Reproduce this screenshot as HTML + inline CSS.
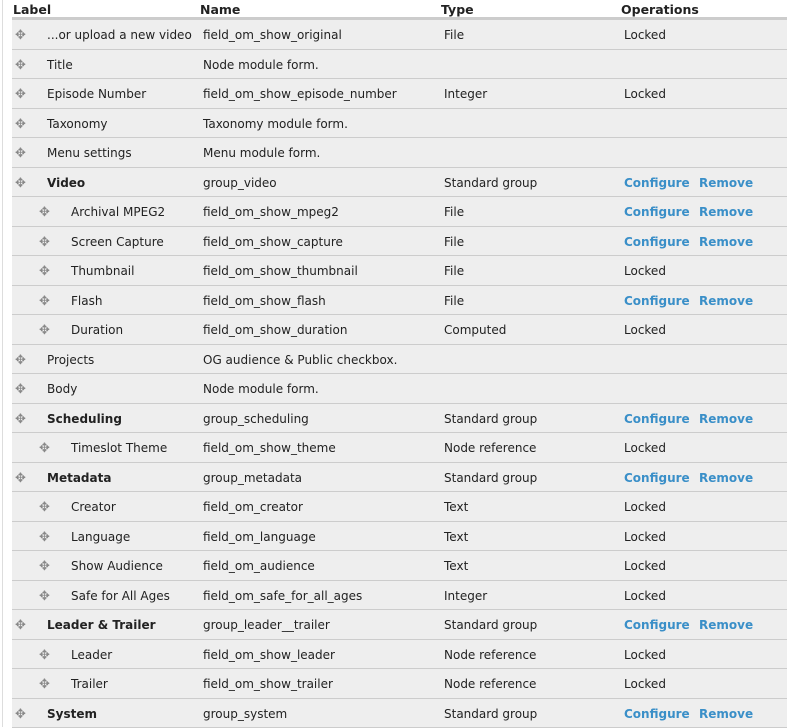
<!DOCTYPE html>
<html><head><style>
body{margin:0;width:805px;height:727px;background:#fff;font-family:"DejaVu Sans","Liberation Sans",sans-serif;font-size:12px;color:#222;position:relative;overflow:hidden}
.ls{position:absolute;left:2px;top:0;width:1px;height:727px;background:#ddd}
.hd{position:absolute;top:0;left:12px;width:775px;height:17px;border-bottom:3px solid #ccc;font-weight:bold;font-size:12.5px}
.hd span{position:absolute;top:2px}
.r{position:absolute;left:12px;width:775px;height:28.5px;background:#eee;border-bottom:1px solid #ccc}
.r span{position:absolute;top:8px;white-space:nowrap}
.ic{color:#888;font-size:13px}
b{font-weight:bold}
.a{color:#3a8fc8;font-weight:bold}
</style></head><body>
<div class="ls"></div>
<div class="hd"><span style="left:1px">Label</span><span style="left:188px">Name</span><span style="left:429px">Type</span><span style="left:609px">Operations</span></div>
<div id="t"></div>
<script>
var rows=[
[0,"...or upload a new video","field_om_show_original","File",0],
[0,"Title","Node module form.","",-1],
[0,"Episode Number","field_om_show_episode_number","Integer",0],
[0,"Taxonomy","Taxonomy module form.","",-1],
[0,"Menu settings","Menu module form.","",-1],
[2,"Video","group_video","Standard group",1],
[1,"Archival MPEG2","field_om_show_mpeg2","File",1],
[1,"Screen Capture","field_om_show_capture","File",1],
[1,"Thumbnail","field_om_show_thumbnail","File",0],
[1,"Flash","field_om_show_flash","File",1],
[1,"Duration","field_om_show_duration","Computed",0],
[0,"Projects","OG audience &amp; Public checkbox.","",-1],
[0,"Body","Node module form.","",-1],
[2,"Scheduling","group_scheduling","Standard group",1],
[1,"Timeslot Theme","field_om_show_theme","Node reference",0],
[2,"Metadata","group_metadata","Standard group",1],
[1,"Creator","field_om_creator","Text",0],
[1,"Language","field_om_language","Text",0],
[1,"Show Audience","field_om_audience","Text",0],
[1,"Safe for All Ages","field_om_safe_for_all_ages","Integer",0],
[2,"Leader &amp; Trailer","group_leader__trailer","Standard group",1],
[1,"Leader","field_om_show_leader","Node reference",0],
[1,"Trailer","field_om_show_trailer","Node reference",0],
[2,"System","group_system","Standard group",1]];
var h="";
rows.forEach(function(r,i){
var top=20+i*29.5;
var ind=r[0]==1;
var ix=ind?27:3, lx=ind?59:35;
var lab=r[0]==2?"<b>"+r[1]+"</b>":r[1];
var op=r[4]==1?'<span class="a" style="left:612px">Configure</span><span class="a" style="left:687px">Remove</span>':(r[4]==0?'<span style="left:612px">Locked</span>':'');
h+='<div class="r" style="top:'+top+'px"><span class="ic" style="left:'+ix+'px;top:8px">✥</span><span style="left:'+lx+'px">'+lab+'</span><span style="left:191px">'+r[2]+'</span><span style="left:432px">'+r[3]+'</span>'+op+'</div>';
});
document.getElementById("t").innerHTML=h;
</script>
</body></html>
